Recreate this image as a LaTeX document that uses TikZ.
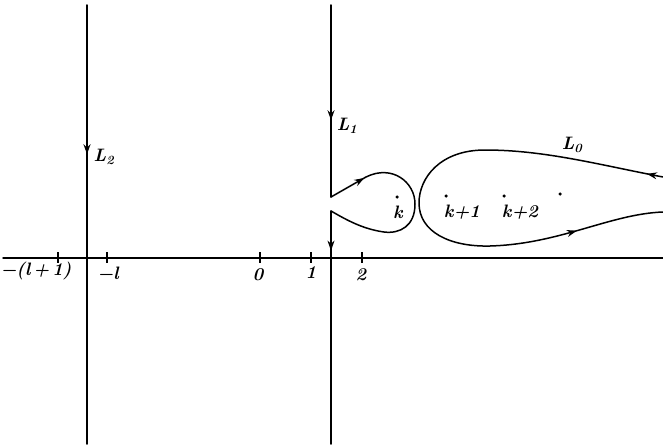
\documentclass[tikz,border=0pt]{standalone}
\usepackage{fontspec}
\usetikzlibrary{arrows.meta,decorations.markings}
\tikzset{
  curve/.style={line width=1.5pt,line cap=round,line join=round},
  arr/.style={postaction={decorate},decoration={markings,mark=at position #1 with {\arrow{Stealth[length=10pt,width=7pt]}}}},
  tick/.style={line width=1.2pt},
  lab/.style={font=\fontsize{18}{22}\selectfont\bfseries\itshape,inner sep=1pt},
  pt/.style={circle,fill,inner sep=0pt,minimum size=3.5pt}
}
\newcommand{\Lsub}[1]{L\textsubscript{#1}}
\begin{document}
\begin{tikzpicture}[x=1pt,y=-1pt]
\useasboundingbox (0,0) rectangle (663,444);
% real axis
\coordinate (axL) at (3,258);
\coordinate (axR) at (663,258);
\draw[curve] (axL) -- (axR);
% ticks
\foreach \n/\x in {a/58,b/107,c/260,d/311,e/362}{
  \draw[tick] (\x,252) -- (\x,263);
}
\node[lab] (tA) at (36,271) {−(l\,+\,1)};
\node[lab] (tB) at (108,273) {−l};
\node[lab] (tC) at (258,275) {0};
\node[lab] (tD) at (311,273) {1};
\node[lab] (tE) at (361,275) {2};
% L2
\coordinate (l2t) at (87,5);
\coordinate (l2b) at (87,444);
\draw[curve,arr=0.34] (l2t) -- (l2b);
\node[lab] (L2) at (104,157) {\Lsub{2}};
% L1
\coordinate (l1t) at (331,5);
\coordinate (l1m) at (331,197);
\coordinate (l1n) at (331,211);
\coordinate (l1b) at (331,444);
\draw[curve,arr=0.60] (l1t) -- (l1m);
\draw[curve,arr=0.17] (l1n) -- (l1b);
\node[lab] (L1) at (347,126) {\Lsub{1}};
% small loop
\coordinate (sl1) at (366,177);
\draw[curve,arr=0.95] (l1m) -- (sl1);
\draw[curve] (sl1) .. controls (392,164) and (415,182) .. (415,204)
  .. controls (415,226) and (400,234) .. (384,232)
  .. controls (362,229) and (345,219) .. (l1n);
% big loop
\coordinate (blT) at (663,177);
\coordinate (blB) at (663,212);
\draw[curve,arr=0.03] (blT) .. controls (600,165) and (545,150) .. (485,150)
  .. controls (440,150) and (419,178) .. (419,203)
  .. controls (419,232) and (450,247) .. (490,246)
  .. controls (560,244) and (610,214) .. (blB);
\draw[curve,arr=0.5,draw=none] (490,246) .. controls (560,244) and (610,214) .. (blB);
\node[lab] (L0) at (572,145) {\Lsub{0}};
% points
\node[pt] (pk) at (397,197) {};
\node[lab] (k0) at (398,212) {k};
\node[pt] (pk1) at (446,196) {};
\node[lab] (k1) at (462,212) {k+1};
\node[pt] (pk2) at (504,196) {};
\node[lab] (k2) at (520,212) {k+2};
\node[pt] (pk3) at (560,194) {};
\end{tikzpicture}
\end{document}
